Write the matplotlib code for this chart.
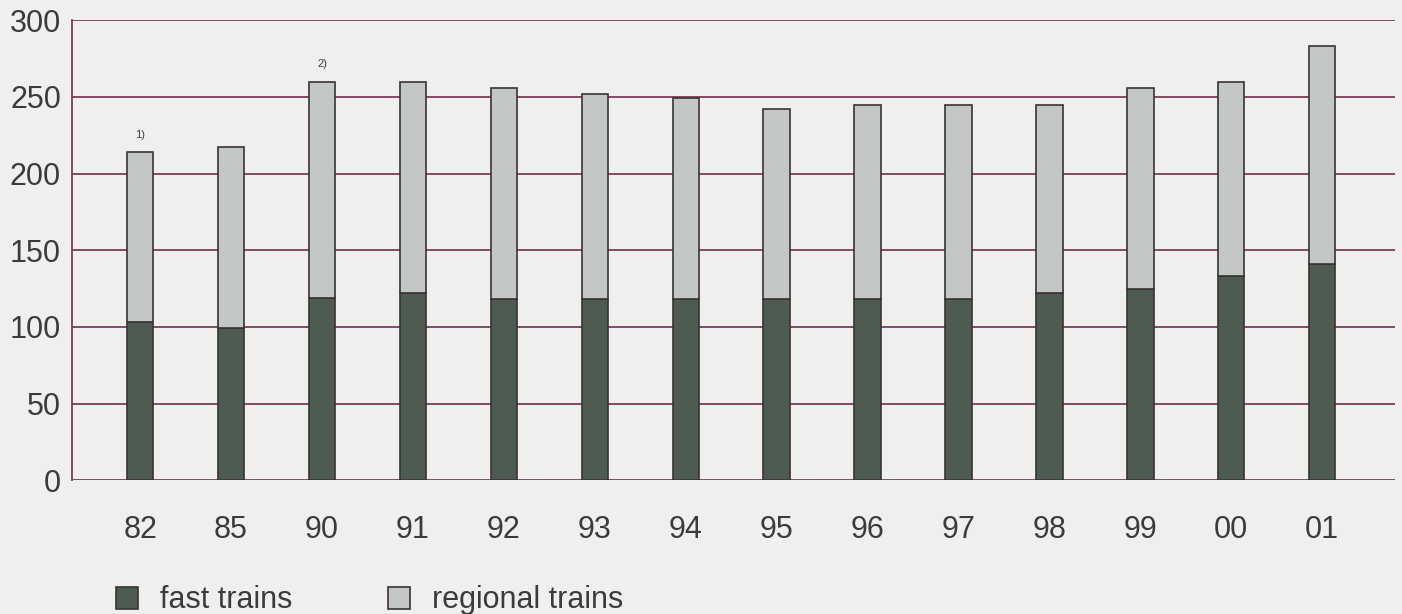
import matplotlib.pyplot as plt
import numpy as np

years = ['82', '85', '90', '91', '92', '93', '94', '95', '96', '97', '98', '99', '00', '01']
fast = [103, 99, 119, 122, 118, 118, 118, 118, 118, 118, 122, 125, 133, 141]
total = [214, 217, 260, 260, 256, 252, 249, 242, 245, 245, 245, 256, 260, 283]
regional = [t - f for t, f in zip(total, fast)]
notes = {'82': '1)', '90': '2)'}

bg = '#efefed'
grid_col = '#7a3d58'
fast_col = '#4d5b51'
reg_col = '#c4c8c4'
edge_col = '#3a3236'
txt_col = '#3e3a3c'

plt.rcParams['font.family'] = ['Liberation Sans', 'DejaVu Sans']

fig = plt.figure(figsize=(14.02, 6.14), dpi=100, facecolor=bg)
ax = fig.add_axes([0.0514, 0.218, 0.9436, 0.749], facecolor=bg)

x = np.arange(len(years))
ax.bar(x, fast, width=0.29, color=fast_col, edgecolor=edge_col, linewidth=1.2, zorder=3,
       label='fast trains')
ax.bar(x, regional, width=0.29, bottom=fast, color=reg_col, edgecolor=edge_col, linewidth=1.2,
       zorder=3, label='regional trains')

# footnote markers above two bars
for i, y in enumerate(years):
    if y in notes:
        ax.text(i, total[i] + 8, notes[y], ha='center', va='bottom', fontsize=8, color=txt_col)

ax.set_xlim(-0.748, 13.8)
ax.set_ylim(0, 300)
ax.set_yticks(range(0, 301, 50))
ax.set_xticks(x)
ax.set_xticklabels(years)
ax.yaxis.grid(True, color=grid_col, linewidth=1.3, zorder=1)
ax.tick_params(axis='both', length=0, labelsize=22, labelcolor=txt_col)
ax.tick_params(axis='y', pad=8)
ax.tick_params(axis='x', pad=25)
for s in ['top', 'right', 'bottom']:
    ax.spines[s].set_visible(False)
ax.spines['left'].set_color(grid_col)
ax.spines['left'].set_linewidth(1.3)

fig.legend(loc='lower left', bbox_to_anchor=(0.0628, -0.047), ncol=2, frameon=False,
           fontsize=22, handlelength=0.72, handleheight=0.72, columnspacing=3.1,
           handletextpad=0.75, labelcolor=txt_col)

fig.savefig('out.png', dpi=100, facecolor=bg)
